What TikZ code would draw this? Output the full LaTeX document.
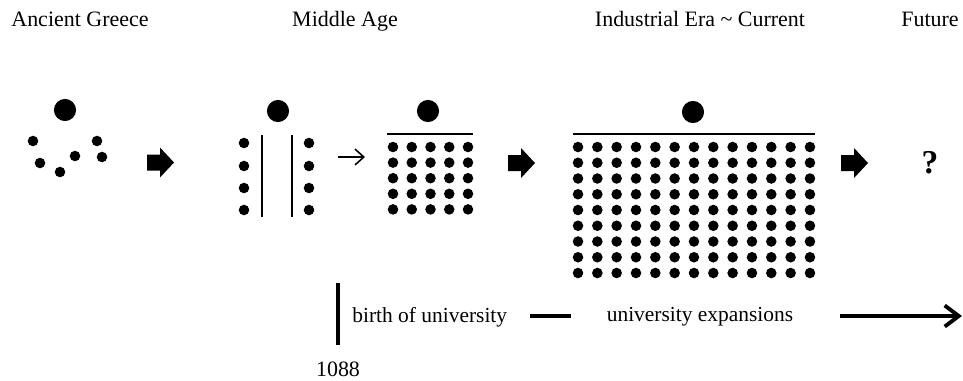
\documentclass[tikz,border=0pt]{standalone}
\usepackage{fontspec}
\setmainfont{Liberation Serif}
\usetikzlibrary{arrows.meta, positioning}

\tikzset{
  era/.style={anchor=base, font=\fontsize{12.5}{15}\selectfont},
  note/.style={font=\fontsize{12.2}{15}\selectfont, inner sep=0pt},
  bigdot/.pic={\fill (0,0) circle (6.3pt);},
  fatarrow/.pic={\fill (-13,-8) -- (0,-8) -- (0,-15) -- (14,0) -- (0,15) -- (0,8) -- (-13,8) -- cycle;}
}

\begin{document}
\begin{tikzpicture}[x=0.02cm, y=-0.02cm]
			\useasboundingbox (0,0) rectangle (963,380);
			
			% eras
			\node[era] (greece) at (80,26) {Ancient Greece};
			\node[era] (middle) at (345,26) {Middle Age};
			\node[era] (industrial) at (700,26) {Industrial Era \char`\~{} Current};
			\node[era] (future) at (930,26) {Future};
			
			% Ancient Greece
			\pic (teacherA) at (65,110) {bigdot};
			\foreach \x/\y in {33/141, 40/163, 60/172, 75/156, 97/141, 102/157}
				\fill (\x,\y) circle (3pt);
			
			\pic (arrA) at (160,162.5) {fatarrow};
			
			% Middle Age
			\pic (teacherB) at (278,111) {bigdot};
			\foreach \y in {143, 166, 188, 210}{
				\fill (244,\y) circle (3pt);
				\fill (309,\y) circle (3pt);
			}
			\draw[line width=1.1pt] (262,135)--(262,217);
			\draw[line width=1.1pt] (292,135)--(292,217);
			
			\coordinate (P) at (338,157);
			\coordinate (Q) at (365,157);
			\draw[line width=0.9pt, -{Straight Barb[length=5pt, width=9pt]}] (P)--(Q);
			
			% first university
			\pic (teacherC) at (428,111) {bigdot};
			\draw[line width=0.9pt] (387,134)--(473,134);
			\foreach \i in {0,...,4}
				\foreach \j in {0,...,4}
					\fill (393+18.75*\i, 147+15.6*\j) circle (3pt);
			
			\pic (arrB) at (521,163) {fatarrow};
			
			% mass university
			\pic (teacherD) at (693,112) {bigdot};
			\draw[line width=0.9pt] (573,134)--(815,134);
			\foreach \i in {0,...,12}
				\foreach \j in {0,...,8}
					\fill (578+19.33*\i, 147+15.75*\j) circle (3pt);
			
			\pic (arrC) at (854,163) {fatarrow};
			
			% Future
			\node (question) at (930,163) {\fontsize{19}{22}\selectfont\bfseries ?};
			
			% timeline
			\coordinate (T) at (338,283);
			\coordinate (U) at (338,345);
			\draw[line width=2.2pt] (T)--(U);
			\node[era] (year) at (338,376) {1088};
			
			\node[note, anchor=west] (birth) at (352,317) {birth of university};
			\node[note] (expansion) at (700,317) {university expansions};
			\coordinate (E) at (962,316);
			
			\draw[line width=2.2pt, shorten <=13pt, shorten >=20pt] (birth.east |- E)--(expansion.west |- E);
			\draw[line width=2.2pt, -{Straight Barb[length=8pt, width=12pt]}, shorten <=26.5pt] (expansion.east |- E)--(E);
		\end{tikzpicture}
\end{document}
